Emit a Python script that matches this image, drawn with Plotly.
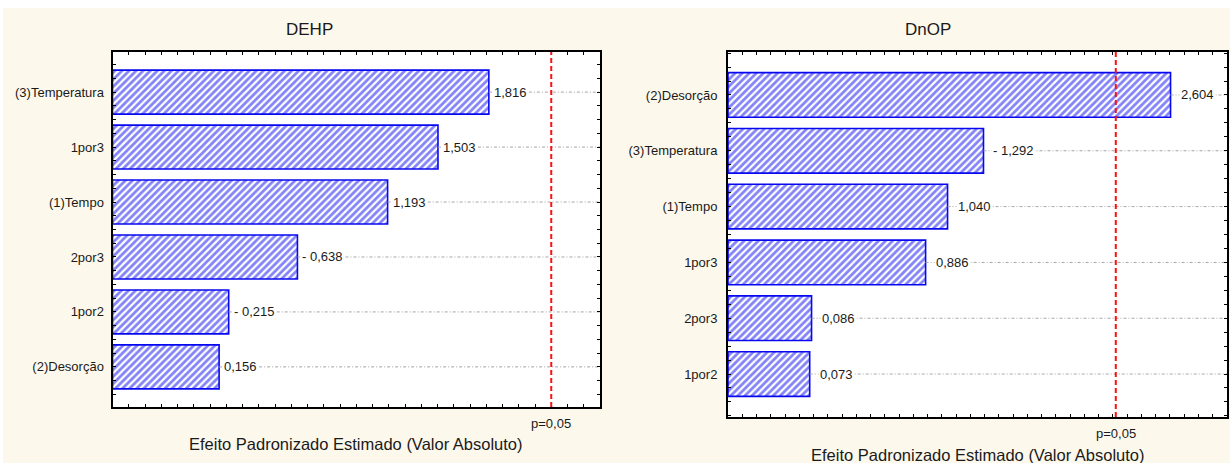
import plotly.graph_objects as go

# ---- data ---------------------------------------------------------------
dehp_factors = ["(3)Temperatura", "1por3", "(1)Tempo", "2por3", "1por2", "(2)Desorção"]
dehp_effects = [1.816, 1.503, 1.193, -0.638, -0.215, 0.156]
dehp_t_crit = 2.20
dehp_x_range = [-0.5, 2.5]

dnop_factors = ["(2)Desorção", "(3)Temperatura", "(1)Tempo", "1por3", "2por3", "1por2"]
dnop_effects = [2.604, -1.292, 1.040, 0.886, 0.086, 0.073]
dnop_t_crit = 2.22
dnop_x_range = [-0.5, 3.0]

panel_titles = ["DEHP", "DnOP"]
x_title = "Efeito Padronizado Estimado (Valor Absoluto)"
p_label = "p=0,05"

# ---- style --------------------------------------------------------------
W, H = 1230, 463
FONT = "Liberation Sans"
TEXT = "#1a1a1a"
CREAM = "#fdf8ec"
BLUE = "#0808f0"


def px(x):
    return x / W


def py(y):
    return 1 - y / H


def fmt(v):
    s = f"{abs(v):.3f}".replace(".", ",")
    return ("- " + s) if v < 0 else s


fig = go.Figure()

panels = [
    dict(factors=dehp_factors, effects=dehp_effects, tcrit=dehp_t_crit, xr=dehp_x_range,
         ax="x", ay="y", dom_x=[px(112.5), px(600)], dom_y=[py(407), py(52)],
         title_x=309, p_y=423, xt_x=356, xt_y=444, shift=3, pad=0.73, standoff=4),
    dict(factors=dnop_factors, effects=dnop_effects, tcrit=dnop_t_crit, xr=dnop_x_range,
         ax="x2", ay="y2", dom_x=[px(728), px(1227)], dom_y=[py(417), py(52)],
         title_x=928, p_y=433, xt_x=978, xt_y=455, shift=8, pad=0.77, standoff=6),
]

annotations = []
shapes = [
    # white margin strips around the cream panel background
    dict(type="rect", xref="paper", yref="paper", x0=0, x1=1, y0=py(8), y1=1,
         fillcolor="white", line=dict(width=0), layer="below"),
    dict(type="rect", xref="paper", yref="paper", x0=0, x1=px(3), y0=0, y1=1,
         fillcolor="white", line=dict(width=0), layer="below"),
]

for k, p in enumerate(panels):
    n = len(p["factors"])
    idx = list(range(n))
    mags = [abs(v) for v in p["effects"]]
    xmin, xmax = p["xr"]

    # dotted reference lines from each bar end to the right frame
    gx, gy = [], []
    for i, m in zip(idx, mags):
        gx += [m, xmax, None]
        gy += [i, i, None]
    fig.add_trace(go.Scatter(
        x=gx, y=gy, mode="lines", xaxis=p["ax"], yaxis=p["ay"],
        line=dict(color="#a6a6a6", width=1, dash="3px,2px,1px,2px"),
        hoverinfo="skip", showlegend=False))

    # hatched bars, drawn from the left edge of the axis
    fig.add_trace(go.Bar(
        orientation="h", y=idx, x=[m - xmin for m in mags], base=xmin,
        width=0.8, xaxis=p["ax"], yaxis=p["ay"], showlegend=False,
        marker=dict(color="white", line=dict(color=BLUE, width=1.6),
                    pattern=dict(shape="/", fgcolor=BLUE, bgcolor="white",
                                 size=5, solidity=0.55)),
        hovertemplate="%{y}: %{customdata}<extra></extra>",
        customdata=[fmt(v) for v in p["effects"]]))

    # value labels
    for i, v, m in zip(idx, p["effects"], mags):
        annotations.append(dict(
            x=m, y=i, xref=p["ax"], yref=p["ay"], text=fmt(v), showarrow=False,
            xanchor="left", yanchor="middle", xshift=p["shift"], bgcolor="white",
            borderpad=1, font=dict(family=FONT, size=13, color=TEXT)))

    # critical value line
    shapes.append(dict(
        type="line", xref=p["ax"], yref=p["ay"] + " domain",
        x0=p["tcrit"], x1=p["tcrit"], y0=0, y1=1, layer="above",
        line=dict(color="#ff1010", width=2, dash="5px,3px")))
    annotations.append(dict(
        x=p["tcrit"], y=py(p["p_y"]), xref=p["ax"], yref="paper", text=p_label,
        showarrow=False, xanchor="center", yanchor="middle",
        font=dict(family=FONT, size=13, color=TEXT)))

    # panel title and x-axis title
    annotations.append(dict(
        x=px(p["title_x"]), y=py(29), xref="paper", yref="paper", text=panel_titles[k],
        showarrow=False, xanchor="center", yanchor="middle",
        font=dict(family=FONT, size=17, color=TEXT)))
    annotations.append(dict(
        x=px(p["xt_x"]), y=py(p["xt_y"]), xref="paper", yref="paper", text=x_title,
        showarrow=False, xanchor="center", yanchor="middle",
        font=dict(family=FONT, size=16.5, color=TEXT)))

    xa = dict(domain=p["dom_x"], range=p["xr"], tickmode="linear", tick0=xmin, dtick=0.1,
              ticks="inside", ticklen=3, tickcolor="black", tickwidth=1,
              showticklabels=False, showgrid=False, zeroline=False,
              showline=True, linecolor="black", linewidth=2, mirror="ticks",
              anchor=p["ay"])
    ya = dict(domain=p["dom_y"], range=[n - 1 + p["pad"], -p["pad"]],
              tickmode="array", tickvals=idx, ticktext=p["factors"],
              ticks="inside", ticklen=3, tickcolor="black", tickwidth=1,
              minor=dict(tickmode="linear", tick0=0, dtick=0.25, ticks="inside",
                         ticklen=3, tickcolor="black", tickwidth=1, showgrid=False),
              ticklabelstandoff=p["standoff"],
              tickfont=dict(family=FONT, size=13, color=TEXT),
              showgrid=False, zeroline=False,
              showline=True, linecolor="black", linewidth=2, mirror="ticks",
              anchor=p["ax"])
    if k == 0:
        fig.update_layout(xaxis=xa, yaxis=ya)
    else:
        fig.update_layout(xaxis2=xa, yaxis2=ya)

fig.update_layout(
    width=W, height=H, margin=dict(l=0, r=0, t=0, b=0),
    paper_bgcolor=CREAM, plot_bgcolor="white",
    barmode="overlay", showlegend=False,
    annotations=annotations, shapes=shapes,
    font=dict(family=FONT, color=TEXT),
)

fig.write_html("out.html")
